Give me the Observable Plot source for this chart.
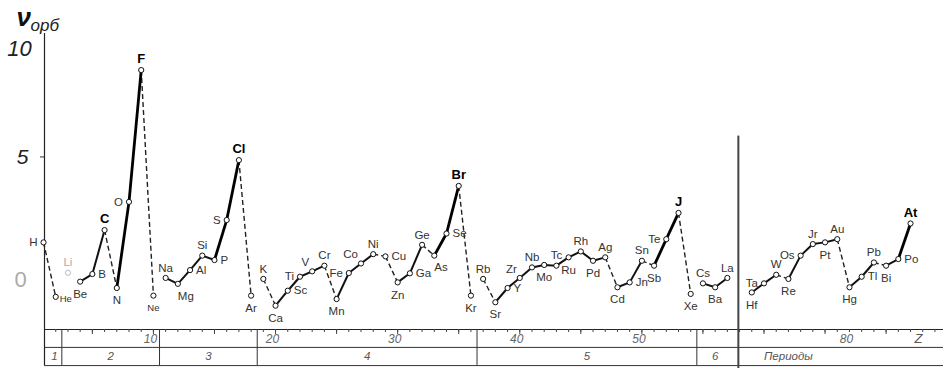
<!DOCTYPE html>
<html>
<head>
<meta charset="utf-8">
<script src="https://cdn.jsdelivr.net/npm/d3@7"></script>
<script src="https://cdn.jsdelivr.net/npm/@observablehq/plot@0.6"></script>
<style>
  html, body { margin: 0; padding: 0; background: #fff; }
  #chart svg { display: block; }
</style>
</head>
<body>
<div id="chart"></div>
<script>
// ---- data ----
const symbols = ["H","He","Li","Be","B","C","N","O","F","Ne",
  "Na","Mg","Al","Si","P","S","Cl","Ar",
  "K","Ca","Sc","Ti","V","Cr","Mn","Fe","Co","Ni","Cu","Zn","Ga","Ge","As","Se","Br","Kr",
  "Rb","Sr","Y","Zr","Nb","Mo","Tc","Ru","Rh","Pd","Ag","Cd","Jn","Sn","Sb","Te","J","Xe",
  "Cs","Ba","La","Hf","Ta","W","Re","Os","Jr","Pt","Au","Hg","Tl","Pb","Bi","Po","At"];
const zNumbers = [1,2,3,4,5,6,7,8,9,10,
  11,12,13,14,15,16,17,18,
  19,20,21,22,23,24,25,26,27,28,29,30,31,32,33,34,35,36,
  37,38,39,40,41,42,43,44,45,46,47,48,49,50,51,52,53,54,
  55,56,57,72,73,74,75,76,77,78,79,80,81,82,83,84,85];
const values = [1.52,-0.70,0.28,-0.08,0.23,2.02,-0.34,3.17,8.54,-0.65,
  0.07,-0.17,0.39,0.98,0.80,2.43,4.87,-0.65,
  0.03,-1.06,-0.45,0.12,0.34,0.57,-0.79,0.27,0.66,1.04,0.95,-0.11,0.26,1.42,0.98,1.88,3.82,-0.65,
  0.03,-0.92,-0.34,0.07,0.50,0.60,0.57,0.91,1.15,0.77,0.91,-0.31,-0.11,0.77,0.57,1.65,2.72,-0.58,
  -0.15,-0.31,0.07,-0.52,-0.15,0.20,0.03,0.98,1.45,1.52,1.65,-0.31,0.12,0.70,0.57,0.84,2.29];
// connection between element i and i+1: "S" heavy solid, "s" solid, "d" dashed, "" none
const links = ["d","","","s","s","d","S","S","d","",
  "s","s","s","s","S","S","d","",
  "d","s","s","s","s","d","s","s","s","d","d","s","s","d","S","S","d","",
  "d","s","s","s","s","s","s","s","s","s","d","s","s","d","S","S","d","",
  "s","s","","s","s","d","s","s","s","s","d","s","s","d","s","S"];
const labelPlace = ["l","rs","t","b","r","t","b","l","t","b",
  "t","br","r","t","r","l","t","b",
  "t","b","r","l","tl","t","b","l","tl","t","r","b","r","t","br","r","t","b",
  "t","b","r","tl","t","b","t","b","t","b","t","b","r","t","b","l","t","b",
  "t","b","t","b","l","t","b","l","t","b","t","b","r","t","b","r","t"];
const boldSymbols = ["F","Cl","Br","J","At","C"];
const smallSymbols = ["He","Ne"];
const ghostSymbols = ["Li"];
const xTickZ = [10,20,30,40,50,80];
const xTickLabels = ["10","20","30","40","50","80"];
const yTickValues = [10,5,0];
const yTickLabels = ["10","5","0"];
const periodBoundariesZ = [2.5,10.5,18.5,36.5,54.5];
const periodLabels = ["1","2","3","4","5","6","Периоды"];
const periodLabelZ = [1.9,6.5,14.5,27.5,45.5,56,75];
const breakZ = 57.9; // lanthanides omitted

// ---- derived ----
const pos = z => z > 57.5 ? z - 13 : z;
const elements = symbols.map((s, i) => ({s, z: zNumbers[i], x: pos(zNumbers[i]), v: values[i], place: labelPlace[i]}));
const segments = [];
links.forEach((t, i) => { if (t) segments.push({x1: elements[i].x, y1: elements[i].v, x2: elements[i+1].x, y2: elements[i+1].v, type: t}); });

const X0 = 1.08, X1 = 74.7;
const YB = -2.03, YT = 10.03;
const YMID = -2.76, YBOT = -3.5;

const placements = {
  t:  {dx: 0,  dy: -10, anchor: "middle"},
  b:  {dx: 0,  dy: 12.5, anchor: "middle"},
  l:  {dx: -6, dy: 0,   anchor: "end"},
  r:  {dx: 6,  dy: 0,   anchor: "start"},
  rs: {dx: 4,  dy: 2,   anchor: "start"},
  tl: {dx: -3, dy: -9,  anchor: "end"},
  br: {dx: 0,  dy: 12,  anchor: "start"}
};
const isBold = d => boldSymbols.includes(d.s);
const isGhost = d => ghostSymbols.includes(d.s);
const isSmall = d => smallSymbols.includes(d.s);

const labelMarks = [];
for (const [key, p] of Object.entries(placements)) {
  const normal = elements.filter(d => d.place === key && !isBold(d));
  const bold = elements.filter(d => d.place === key && isBold(d));
  labelMarks.push(Plot.text(normal, {x: "x", y: "v", text: "s", dx: p.dx, dy: p.dy, textAnchor: p.anchor,
    fontSize: d => isSmall(d) ? 9.5 : 11.5, fill: d => isGhost(d) ? "#aaa" : "#333"}));
  labelMarks.push(Plot.text(bold, {x: "x", y: "v", text: "s", dx: p.dx, dy: p.dy - 1, textAnchor: p.anchor,
    fontSize: 13, fontWeight: "bold", fill: "#000"}));
}

const xTickPos = xTickZ.map(pos);

const chart = Plot.plot({
  width: 943,
  height: 368,
  marginLeft: 44,
  marginRight: 0,
  marginTop: 33,
  marginBottom: 39,
  style: {fontFamily: "Liberation Sans, Arial, sans-serif", background: "#fff"},
  x: {type: "linear", domain: [X0, X1], axis: null},
  y: {type: "linear", domain: [YB, YT], axis: null},
  marks: [
    // bottom strip
    Plot.ruleY([YB], {stroke: "#222", strokeWidth: 1.2}),
    Plot.ruleY([YMID], {stroke: "#333", strokeWidth: 1}),
    Plot.ruleY([YBOT], {stroke: "#333", strokeWidth: 1}),
    Plot.ruleX(periodBoundariesZ, {y1: YB, y2: YBOT, stroke: "#333", strokeWidth: 1}),
    Plot.axisX(d3.range(2, 75), {tickSize: 3, tickFormat: () => "", stroke: "#444"}),
    Plot.axisX(d3.range(5, 75, 5), {tickSize: 5, tickFormat: () => "", stroke: "#444"}),
    Plot.axisX(xTickPos, {tickSize: 0, tickPadding: 5, dx: -3, fontSize: 12, fontStyle: "italic",
      color: "#666", tickFormat: d => xTickLabels[xTickPos.indexOf(d)]}),
    Plot.text(["Z"], {x: 72.65, y: (YB + YMID) / 2, text: d => d, fontSize: 13, fontStyle: "italic", fill: "#555"}),
    Plot.text(periodLabels, {x: (d, i) => pos(periodLabelZ[i]), y: (YMID + YBOT) / 2, text: d => d,
      fontSize: 11.5, fontStyle: "italic", fill: "#555"}),
    // left axis
    Plot.ruleX([X0], {y1: YBOT, y2: YT, stroke: "#222", strokeWidth: 1.2}),
    Plot.ruleY([5], {x1: X0 - 0.33, x2: X0, stroke: "#333"}),
    Plot.text(yTickValues.slice(0, 1), {x: X0, y: d => d, text: () => yTickLabels[0], dx: -25, dy: 15,
      fontSize: 22, fontStyle: "italic", fill: "#222"}),
    Plot.text(yTickValues.slice(1, 2), {x: X0, y: d => d, text: () => yTickLabels[1], dx: -22, dy: 0,
      fontSize: 21, fontStyle: "italic", fill: "#222"}),
    Plot.text(yTickValues.slice(2, 3), {x: X0, y: d => d, text: () => yTickLabels[2], dx: -24, dy: 0,
      fontSize: 22, fill: "#aaa"}),
    Plot.text(["ν"], {frameAnchor: "top-left", lineAnchor: "middle", text: d => d, dx: -28, dy: -16, fontSize: 26,
      fontWeight: "bold", fontStyle: "italic", fill: "#111"}),
    Plot.text(["орб"], {frameAnchor: "top-left", lineAnchor: "middle", text: d => d, dx: -14, dy: -8, textAnchor: "start",
      fontSize: 17, fontStyle: "italic", fill: "#222"}),
    // break line
    Plot.ruleX([breakZ], {y1: 5.85, y2: -3.62, stroke: "#444", strokeWidth: 2}),
    // connections
    Plot.link(segments.filter(d => d.type === "d"), {x1: "x1", y1: "y1", x2: "x2", y2: "y2",
      stroke: "#222", strokeWidth: 1.4, strokeDasharray: "5,3"}),
    Plot.link(segments.filter(d => d.type === "s"), {x1: "x1", y1: "y1", x2: "x2", y2: "y2",
      stroke: "#111", strokeWidth: 2}),
    Plot.link(segments.filter(d => d.type === "S"), {x1: "x1", y1: "y1", x2: "x2", y2: "y2",
      stroke: "#000", strokeWidth: 2.8}),
    // points
    Plot.dot(elements, {x: "x", y: "v", r: 2.6, fill: "white", stroke: d => isGhost(d) ? "#bbb" : "#111", strokeWidth: 1}),
    ...labelMarks
  ]
});
document.getElementById("chart").appendChild(chart);
</script>
</body>
</html>
